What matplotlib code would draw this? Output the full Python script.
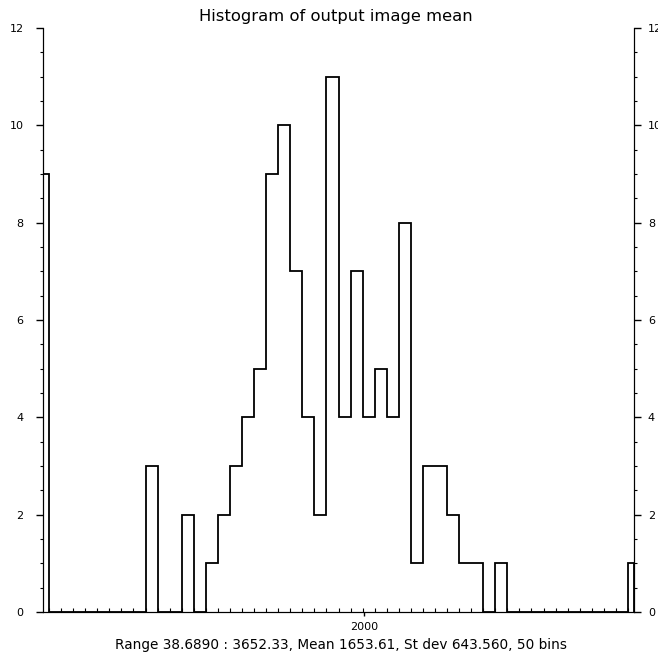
import numpy as np
import matplotlib
matplotlib.use("Agg")
import matplotlib.pyplot as plt
from matplotlib.ticker import MultipleLocator, FixedLocator

# Histogram parameters (IDL style: 50 bins, centres from min to max)
range_min = 38.6890
range_max = 3652.33
n_bins = 50

# Counts per bin
counts = [9, 0, 0, 0, 0, 0, 0, 0, 0, 3,
          0, 0, 2, 0, 1, 2, 3, 4, 5, 9,
          10, 7, 4, 2, 11, 4, 7, 4, 5, 4,
          8, 1, 3, 3, 2, 1, 1, 0, 1, 0,
          0, 0, 0, 0, 0, 0, 0, 0, 0, 1]

y_ticks = [0, 2, 4, 6, 8, 10, 12]
x_ticks = [2000]
x_ticklabels = ["2000"]

title = "Histogram of output image mean"
footer = "Range 38.6890 : 3652.33, Mean 1653.61, St dev 643.560, 50 bins"

binsize = (range_max - range_min) / (n_bins - 1)
centres = range_min + np.arange(n_bins) * binsize
edges = np.concatenate([[range_min], centres[:-1] + binsize / 2, [range_max]])

W, H = 658, 656
fig = plt.figure(figsize=(W / 100, H / 100), dpi=100)
ax = fig.add_axes([43 / W, 1 - 612 / H, (634 - 43) / W, (612 - 28) / H])

ax.stairs(counts, edges, baseline=0, color="black", linewidth=1.3)

ax.set_xlim(range_min, range_max)
ax.set_ylim(0, 12)

ax.spines["top"].set_visible(False)

# left y axis, ticks outward
ax.set_yticks(y_ticks)
ax.yaxis.set_minor_locator(MultipleLocator(0.5))
ax.tick_params(axis="y", which="major", direction="out", length=5,
               width=1.0, labelsize=8, pad=9)
ax.tick_params(axis="y", which="minor", direction="out", length=2.5, width=0.8)

# right y axis, same scale; labels run off the edge like in the scan
ax2 = ax.twinx()
ax2.set_ylim(0, 12)
ax2.set_yticks(y_ticks)
ax2.yaxis.set_minor_locator(MultipleLocator(0.5))
ax2.spines["top"].set_visible(False)
ax2.tick_params(axis="y", which="major", direction="out", length=5,
                width=1.0, labelsize=8, pad=5)
ax2.tick_params(axis="y", which="minor", direction="out", length=2.5, width=0.8)

# x axis: one labelled tick, small inward ticks at the bin edges
ax.set_xticks(x_ticks)
ax.set_xticklabels(x_ticklabels)
ax.xaxis.set_minor_locator(FixedLocator(edges[1:-1]))
ax.tick_params(axis="x", which="major", direction="out", length=3,
               width=1.0, labelsize=8, pad=4)
ax.tick_params(axis="x", which="minor", direction="in", length=3, width=0.8)

fig.text(336 / W, 1 - 17 / H, title, ha="center", va="center", fontsize=11.8)
fig.text(341 / W, 1 - 645 / H, footer, ha="center", va="center", fontsize=9.8)

fig.savefig("out.png", dpi=100)
